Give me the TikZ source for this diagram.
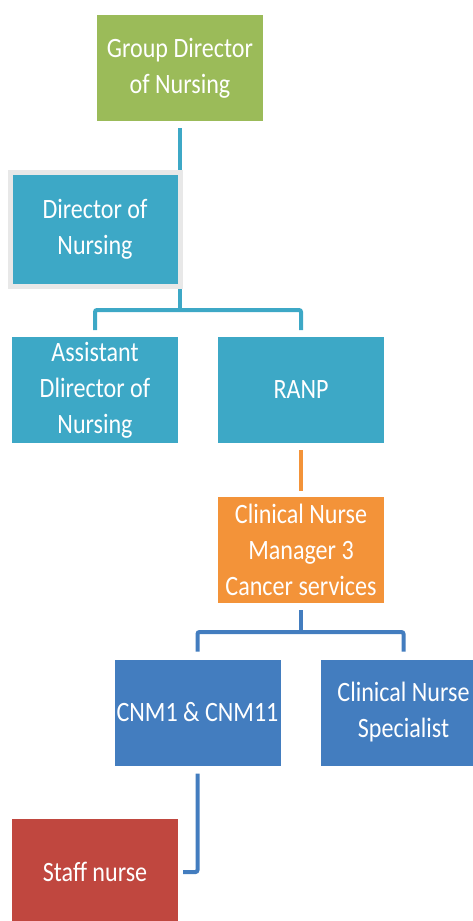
\documentclass[tikz,border=0pt]{standalone}
\usepackage{fontspec}
\setmainfont{Carlito}[FakeStretch=0.86]
\usepackage{xcolor}
\usepackage{tikz}
\usetikzlibrary{positioning, backgrounds}

\definecolor{chartgreen}{HTML}{9BBB59}
\definecolor{chartteal}{HTML}{3DA8C6}
\definecolor{chartorange}{HTML}{F39339}
\definecolor{chartblue}{HTML}{437DBF}
\definecolor{chartred}{HTML}{C0473F}

\begin{document}
\begin{tikzpicture}[
    x=1pt, y=1pt,
    post/.style={rectangle, minimum width=166pt, minimum height=106pt, inner sep=0pt, outer sep=0pt, align=center, text=white, font=\fontsize{28}{36}\selectfont},
    link/.style={line width=4pt, rounded corners=2pt}
]
    \useasboundingbox (0,0) rectangle (473,-921);

    \node [post, fill=chartgreen] (gdn) at (180,-68) {Group Director\\of Nursing};
    \node [post, fill=chartteal, draw=black!9, line width=5pt, minimum width=170pt, minimum height=114pt] (dn) at (95,-229) {Director of\\Nursing};
    \node [post, fill=chartteal] (adn) at (95,-390) {Assistant\\Dlirector of\\Nursing};
    \node [post, fill=chartteal, right=40pt of adn] (ranp) {RANP};
    \node [post, fill=chartorange, below=54pt of ranp] (cnm3) {Clinical Nurse\\Manager 3\\Cancer services};
    \node [post, fill=chartblue] (cnm1) at (197.5,-712.5) {CNM1 \& CNM11};
    \node [post, fill=chartblue, right=40pt of cnm1] (cns) {Clinical Nurse\\Specialist};
    \node [post, fill=chartred] (staff) at (95,-872) {Staff nurse};

    % reporting lines sit behind the boxes
    \coordinate (tbar) at (0,-310);
    \coordinate (bbar) at (0,-632);
    \begin{scope}[on background layer]
        \draw [link, chartteal] ([yshift=-7pt]gdn.south) -- (gdn.south |- tbar);
        \draw [link, chartteal] ([yshift=7pt]adn.north) |- (ranp.north |- tbar) -- ([yshift=7pt]ranp.north);
        \draw [link, chartorange] ([yshift=-7pt]ranp.south) -- ([yshift=6pt]cnm3.north);
        \draw [link, chartblue] ([yshift=-7pt]cnm3.south) -- (cnm3.south |- bbar);
        \draw [link, chartblue] ([yshift=8pt]cnm1.north) |- (cns.north |- bbar) -- ([yshift=8pt]cns.north);
        \draw [link, chartblue] ([yshift=-8pt]cnm1.south) |- ([xshift=5pt]staff.east);
    \end{scope}
\end{tikzpicture}
\end{document}
